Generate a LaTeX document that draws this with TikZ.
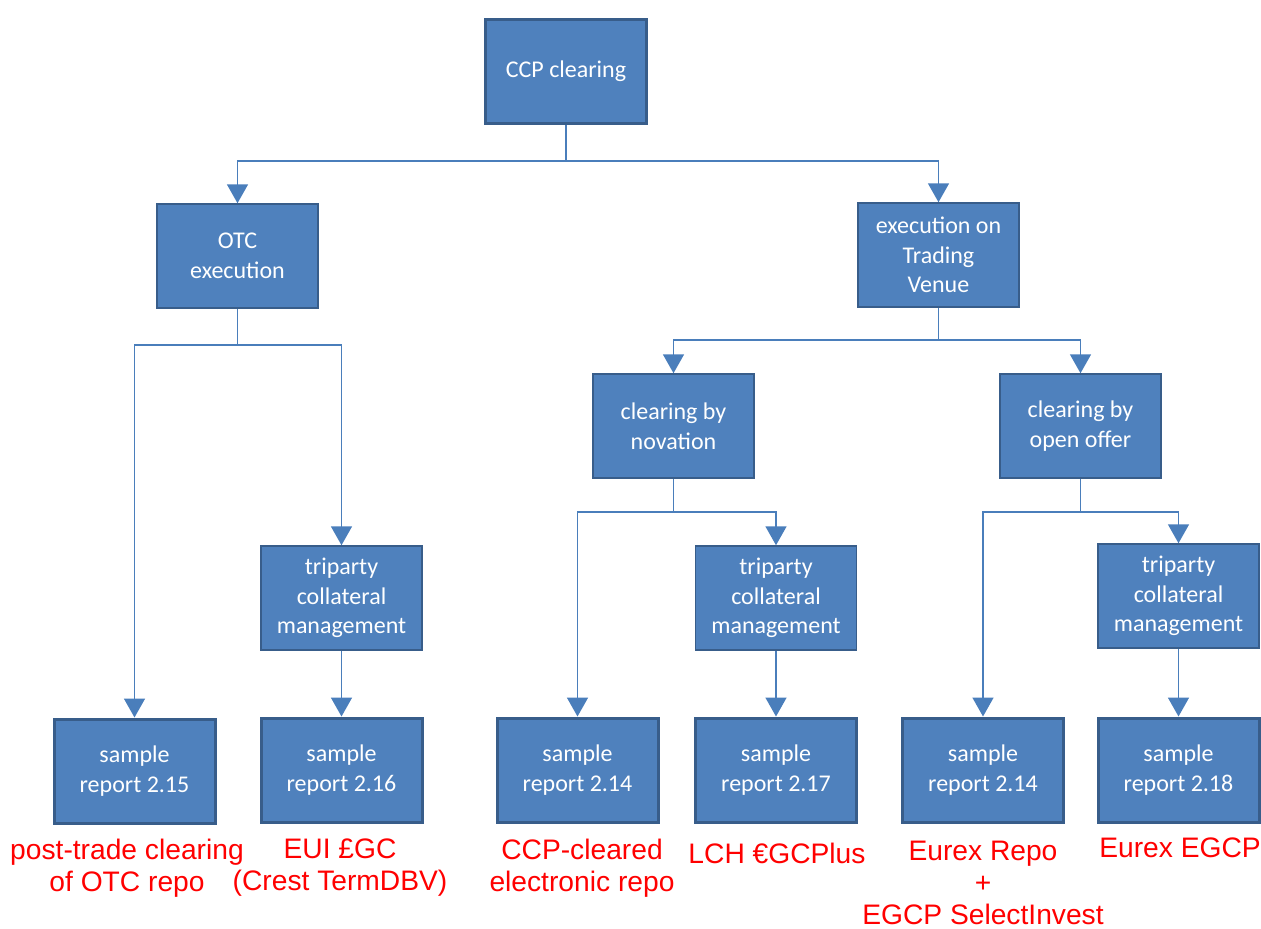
\documentclass[tikz,border=0pt]{standalone}
\usepackage{fontspec}
\newfontfamily\boxfont{Carlito}
\newfontfamily\redfont{Liberation Sans}
\usetikzlibrary{arrows.meta}
\definecolor{boxfill}{HTML}{4F81BD}
\definecolor{boxline}{HTML}{385D8A}
\definecolor{conn}{HTML}{4A7EBB}
\begin{document}
\begin{tikzpicture}[x=1pt,y=-1pt,
  box/.style={draw=boxline, fill=boxfill, line width=1.5pt, minimum width=161pt, minimum height=104pt, inner sep=2pt, align=center, text=white, font=\boxfont\fontsize{24}{29.5}\selectfont},
  thickbox/.style={box, line width=3pt},
  lbl/.style={text=red, align=center, font=\redfont\fontsize{28.2}{32}\selectfont, inner sep=0pt},
  link/.style={draw=conn, line width=1.7pt},
  arr/.style={link, -{Triangle[width=21pt,length=19pt]}}]
\useasboundingbox (0,0) rectangle (1261,929);

\node[thickbox] (ccp) at (566,71) {CCP clearing};
\node[box] (otc) at (237.5,256) {OTC\\execution};
\node[box] (tv) at (938.5,255) {execution on\\Trading\\Venue};
\node[box] (nov) at (673.5,426) {clearing by\\novation};
\node[box] (oo) at (1080.5,426) {clearing by\\open offer};
\node[box] (tp1) at (341.5,598) {triparty\\collateral\\management};
\node[box] (tp2) at (776,598) {triparty\\collateral\\management};
\node[box] (tp3) at (1178.5,596) {triparty\\collateral\\management};
\node[thickbox] (s15) at (134.5,771) {sample\\report 2.15};
\node[thickbox] (s16) at (341.5,770) {sample\\report 2.16};
\node[thickbox] (s14a) at (577.5,770) {sample\\report 2.14};
\node[thickbox] (s17) at (776,770) {sample\\report 2.17};
\node[thickbox] (s14b) at (983,770) {sample\\report 2.14};
\node[thickbox] (s18) at (1178.5,770) {sample\\report 2.18};

\node[lbl] (l15) at (127,868) {post-trade clearing\\of OTC repo};
\node[lbl] (l16) at (340,868) {EUI £GC\\(Crest TermDBV)};
\node[lbl] (l14a) at (582,868) {CCP-cleared\\electronic repo};
\node[lbl] (l17) at (777,853) {LCH €GCPlus};
\node[lbl] (l14b) at (983,883) {Eurex Repo\\+\\EGCP SelectInvest};
\node[lbl] (l18) at (1180,848) {Eurex EGCP};

\coordinate (j0) at (566,161);
\coordinate (j1) at (237.5,345);
\coordinate (j2) at (938.5,340);
\coordinate (j3) at (673.5,512);
\coordinate (j4) at (1080.5,512);

\draw[link] (ccp.south) -- (j0);
\draw[arr] (j0) -| (otc.north);
\draw[arr] (j0) -| (tv.north);

\draw[link] (otc.south) -- (j1);
\draw[arr] (j1) -| (s15.north);
\draw[arr] (j1) -| (tp1.north);
\draw[arr] (tp1.south) -- (s16.north);

\draw[link] (tv.south) -- (j2);
\draw[arr] (j2) -| (nov.north);
\draw[arr] (j2) -| (oo.north);

\draw[link] (nov.south) -- (j3);
\draw[arr] (j3) -| (s14a.north);
\draw[arr] (j3) -| (tp2.north);
\draw[arr] (tp2.south) -- (s17.north);

\draw[link] (oo.south) -- (j4);
\draw[arr] (j4) -| (s14b.north);
\draw[arr] (j4) -| (tp3.north);
\draw[arr] (tp3.south) -- (s18.north);
\end{tikzpicture}
\end{document}
